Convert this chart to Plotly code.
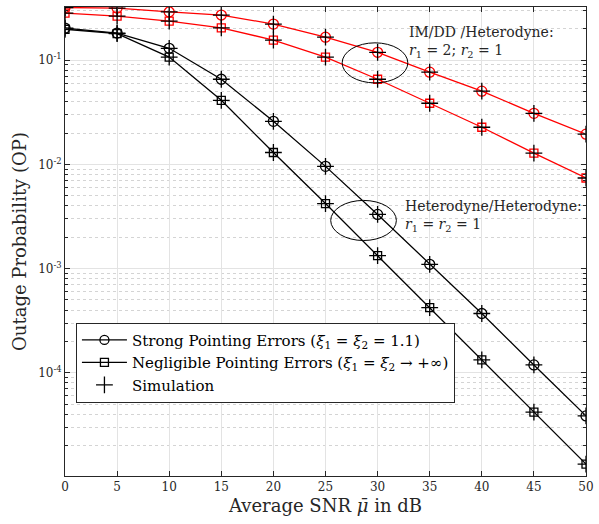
import plotly.graph_objects as go

snr_db = [0, 5, 10, 15, 20, 25, 30, 35, 40, 45, 50]

# Heterodyne/Heterodyne (r1 = r2 = 1)
het_strong = [0.203, 0.182, 0.130, 0.0656, 0.0259, 0.00957, 0.00331, 0.00110, 0.000371, 0.000119, 3.86e-5]
het_neglig = [0.198, 0.180, 0.107, 0.0412, 0.0130, 0.00421, 0.00133, 0.000422, 0.000133, 4.2e-5, 1.33e-5]

# IM/DD / Heterodyne (r1 = 2, r2 = 1)
imdd_strong = [0.320, 0.316, 0.290, 0.271, 0.222, 0.166, 0.119, 0.0767, 0.0504, 0.0309, 0.0195]
imdd_neglig = [0.283, 0.265, 0.237, 0.204, 0.156, 0.107, 0.0656, 0.0386, 0.0227, 0.0128, 0.0074]

x_ticks = [0, 5, 10, 15, 20, 25, 30, 35, 40, 45, 50]
y_ticks = [1e-1, 1e-2, 1e-3, 1e-4]
y_ticktext = ["10<sup>-1</sup>", "10<sup>-2</sup>", "10<sup>-3</sup>", "10<sup>-4</sup>"]

FONT = "DejaVu Serif"
RED = "#ff0000"
BLACK = "#000000"
TXT = "#262626"

fig = go.Figure()

curves = [
    (imdd_strong, RED, "circle-open", 10),
    (imdd_neglig, RED, "square-open", 8),
    (het_strong, BLACK, "circle-open", 10),
    (het_neglig, BLACK, "square-open", 8),
]
for ys, col, sym, sz in curves:
    fig.add_trace(go.Scatter(
        x=snr_db, y=ys, mode="lines+markers",
        line=dict(color=col, width=1.3),
        marker=dict(symbol=sym, size=sz, color=col, line=dict(width=1.3, color=col)),
        showlegend=False, hoverinfo="skip"))
    fig.add_trace(go.Scatter(
        x=snr_db, y=ys, mode="markers",
        marker=dict(symbol="cross-thin", size=12, color=BLACK, line=dict(width=1.3, color=BLACK)),
        showlegend=False, hoverinfo="skip"))

# legend entries
fig.add_trace(go.Scatter(
    x=[None], y=[None], mode="lines+markers",
    line=dict(color=BLACK, width=1.3),
    marker=dict(symbol="circle-open", size=9, color=BLACK, line=dict(width=1.3, color=BLACK)),
    name="Strong Pointing Errors (<i>ξ</i><sub>1</sub> = <i>ξ</i><sub>2</sub> = 1.1)"))
fig.add_trace(go.Scatter(
    x=[None], y=[None], mode="lines+markers",
    line=dict(color=BLACK, width=1.3),
    marker=dict(symbol="square-open", size=8, color=BLACK, line=dict(width=1.3, color=BLACK)),
    name="Negligible Pointing Errors (<i>ξ</i><sub>1</sub> = <i>ξ</i><sub>2</sub> → +∞)"))
fig.add_trace(go.Scatter(
    x=[None], y=[None], mode="markers",
    marker=dict(symbol="cross-thin", size=12, color=BLACK, line=dict(width=1.3, color=BLACK)),
    name="Simulation"))

minor_vals = [m * 10.0 ** e for e in range(-5, 0) for m in range(2, 10)]

fig.update_layout(
    width=599, height=524,
    margin=dict(l=65, r=5, t=7, b=48),
    paper_bgcolor="white", plot_bgcolor="white",
    font=dict(family=FONT, color=TXT, size=12),
    showlegend=True,
    legend=dict(x=0.021, y=0.327, xanchor="left", yanchor="top",
                bgcolor="white", bordercolor=TXT, borderwidth=1,
                font=dict(family=FONT, size=15, color="#000000"),
                tracegroupgap=0, itemwidth=45),
    xaxis=dict(
        range=[0, 50], tickvals=x_ticks, ticks="inside", ticklen=5,
        tickcolor=TXT, showline=True, linecolor=TXT, linewidth=1,
        mirror="allticks", showgrid=True, gridcolor="#e3e3e3", gridwidth=1,
        zeroline=False, tickfont=dict(size=12, family=FONT),
        ticklabeloverflow="allow",
        title=dict(text="Average SNR <i>μ̄</i> in dB", font=dict(size=18, family=FONT), standoff=5),
    ),
    yaxis=dict(
        type="log", range=[-4.99, -0.49], tickvals=y_ticks, ticktext=y_ticktext,
        ticks="inside", ticklen=5, tickcolor=TXT,
        showline=True, linecolor=TXT, linewidth=1, mirror="allticks",
        showgrid=True, gridcolor="#e3e3e3", gridwidth=1, zeroline=False,
        tickfont=dict(size=12, family=FONT),
        title=dict(text="Outage Probability (OP)", font=dict(size=18, family=FONT), standoff=6),
        minor=dict(tickvals=minor_vals, ticks="inside", ticklen=3, tickcolor=TXT,
                   showgrid=True, gridcolor="#d4d4d4", griddash="dot", gridwidth=1),
    ),
)

# ellipses highlighting curve groups
fig.add_shape(type="circle", xref="x", yref="y", x0=26.6, x1=32.9, y0=0.0605, y1=0.1466,
              line=dict(color=BLACK, width=1))
fig.add_shape(type="circle", xref="x", yref="y", x0=25.5, x1=31.8, y0=0.00186, y1=0.00451,
              line=dict(color=BLACK, width=1))

ann_font = dict(family=FONT, size=14, color=TXT)
fig.add_annotation(x=32.8, y=-0.83, xref="x", yref="y", xanchor="left", yanchor="middle",
                   text="IM/DD /Heterodyne:<br><i>r</i><sub>1</sub> = 2; <i>r</i><sub>2</sub> = 1",
                   showarrow=False, align="left", font=ann_font)
fig.add_annotation(x=32.4, y=-2.5, xref="x", yref="y", xanchor="left", yanchor="middle",
                   text="Heterodyne/Heterodyne:<br><i>r</i><sub>1</sub> = <i>r</i><sub>2</sub> = 1",
                   showarrow=False, align="left", font=ann_font)

fig.write_html("out.html")
